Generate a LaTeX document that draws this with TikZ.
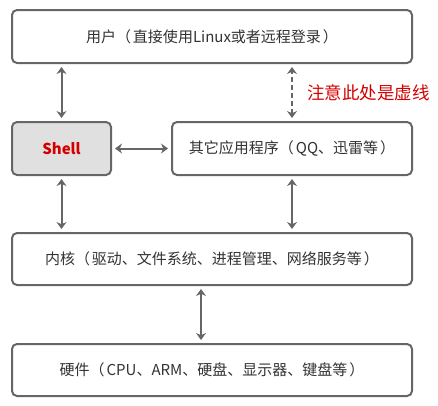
\documentclass[tikz,border=0pt]{standalone}
\usepackage{fontspec}
\setmainfont{Noto Sans CJK SC}
\usetikzlibrary{arrows.meta, positioning}
\definecolor{cline}{HTML}{666666}
\definecolor{ctext}{HTML}{333333}
\definecolor{cred}{HTML}{D40000}
\definecolor{cshell}{HTML}{E0E0E0}
\newcommand{\pgap}{\hspace{2pt}}
\tikzset{
  every picture/.style={font=\fontsize{15}{17}\selectfont, line width=2pt},
  layer/.style={draw=cline, fill=#1, rounded corners=5pt, align=center, text=ctext, minimum height=53pt, inner sep=0pt},
  layer/.default=white,
  link/.style={{Stealth[length=7pt,width=10pt]}-{Stealth[length=7pt,width=10pt]}, draw=cline, line width=2pt, shorten >=3pt, shorten <=3pt},
  remark/.style={font=\fontsize{17.5}{19}\selectfont, text=cred, anchor=west, inner sep=0pt},
}

\begin{document}
\begin{tikzpicture}[x=1pt, y=-1pt]
  \useasboundingbox (0,0) rectangle (438,405);
  \node[layer, minimum width=400pt] (user) at (212,36.5) {用户（\pgap 直接使用Linux或者远程登录\pgap ）};
  \node[layer=cshell, minimum width=99pt] (shell) at (61.5,148.5) {\fontsize{15}{17}\selectfont\bfseries\color{cred}Shell};
  \node[layer, minimum width=240pt] (apps) at (292,148.5) {其它应用程序（\pgap QQ、迅雷等\pgap ）};
  \node[layer, minimum width=400pt, minimum height=52pt] (kernel) at (212,259) {内核（\pgap 驱动、文件系统、进程管理、网络服务等\pgap ）};
  \node[layer, minimum width=400pt, minimum height=52pt] (hw) at (212,370) {硬件（\pgap CPU、ARM、硬盘、显示器、键盘等\pgap ）};
  \draw[link] (shell.north) -- (shell.north |- user.south);
  \draw[link, dash pattern=on 5pt off 3pt] (apps.north) -- (apps.north |- user.south);
  \node[remark] (note) at (306,93) {注意此处是虚线};
  \draw[link] (shell.east) -- (apps.west);
  \draw[link] (shell.south) -- (shell.south |- kernel.north);
  \draw[link] (apps.south) -- (apps.south |- kernel.north);
  \draw[link] ([xshift=-11pt]kernel.south) -- ([xshift=-11pt]hw.north);
\end{tikzpicture}
\end{document}
